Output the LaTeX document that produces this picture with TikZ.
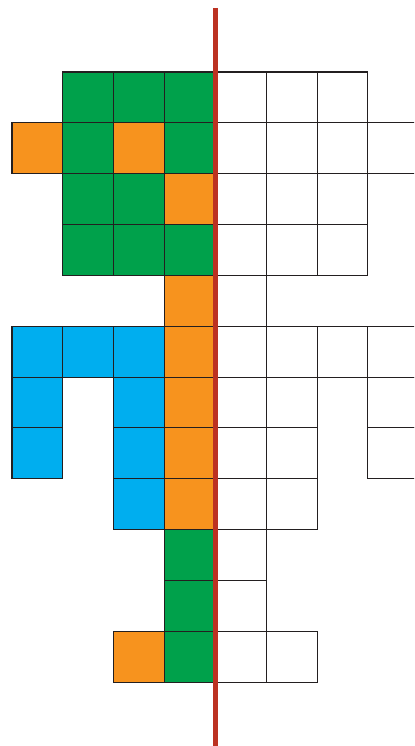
\documentclass[tikz,border=0pt]{standalone}
\usetikzlibrary{positioning}
\definecolor{leafgreen}{HTML}{00A14B}
\definecolor{tangerine}{HTML}{F7931E}
\definecolor{skyblue}{HTML}{00AEEF}
\definecolor{mirrorred}{HTML}{BC3222}
\definecolor{ink}{HTML}{231F20}
\definecolor{paper}{HTML}{FFFFFF}
\begin{document}
\begin{tikzpicture}[
  x=1cm, y=-1cm,
  %===========================================================
  % Cell styles
  %===========================================================
  cell/.style={
    rectangle,
    draw=ink,
    line width=0.6pt,
    minimum size=1cm,
    inner sep=0pt,
    outer sep=0pt
  },
  greencell/.style={cell, fill=leafgreen},
  orangecell/.style={cell, fill=tangerine},
  bluecell/.style={cell, fill=skyblue},
  blankcell/.style={cell, fill=paper},
  %===========================================================
  % Mirror line
  %===========================================================
  mirror/.style={
    draw=mirrorred,
    line width=2.8pt
  }
]
  \useasboundingbox (0,0) rectangle (8.142,14.671);
  \clip (0,0) rectangle (8.142,14.671);

  %====================================================================
  % Grid of cells, column/row counted from the top-left cell.
  %====================================================================
  \begin{scope}[shift={(0.236,1.416)}]
    % right half -- empty cells
    \foreach \c/\r in {4/0,5/0,6/0, 4/1,5/1,6/1,7/1, 4/2,5/2,6/2, 4/3,5/3,6/3,
                       4/4, 4/5,5/5,6/5,7/5, 4/6,5/6,7/6, 4/7,5/7,7/7,
                       4/8,5/8, 4/9, 4/10, 4/11,5/11}
      \node[blankcell] (cell-\c-\r) at (\c+0.5,\r+0.5) {};

    % left half -- coloured cells
    \foreach \c/\r in {1/0,2/0,3/0, 1/1,3/1, 1/2,2/2, 1/3,2/3,3/3, 3/9, 3/10, 3/11}
      \node[greencell] (cell-\c-\r) at (\c+0.5,\r+0.5) {};

    \foreach \c/\r in {0/1,2/1, 3/2, 3/4,3/5,3/6,3/7,3/8, 2/11}
      \node[orangecell] (cell-\c-\r) at (\c+0.5,\r+0.5) {};

    \foreach \c/\r in {0/5,1/5,2/5, 0/6,2/6, 0/7,2/7, 2/8}
      \node[bluecell] (cell-\c-\r) at (\c+0.5,\r+0.5) {};
  \end{scope}

  %====================================================================
  % Mirror line between the two halves
  %====================================================================
  \coordinate (mirrortop) at (4.238,0.157);
  \coordinate (mirrorbot) at (4.238,14.671);
  \draw[mirror] (mirrortop) -- (mirrorbot);

\end{tikzpicture}
\end{document}
